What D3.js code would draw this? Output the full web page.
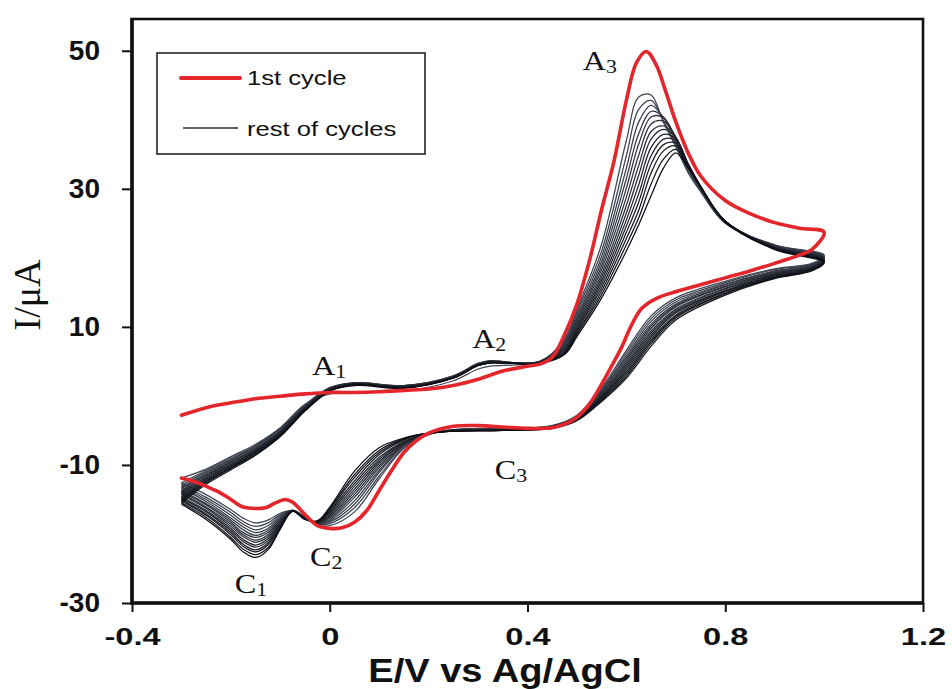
<!DOCTYPE html>
<html>
<head>
<meta charset="utf-8">
<script src="https://cdn.jsdelivr.net/npm/d3@7"></script>
<style>
  html, body { margin: 0; padding: 0; background: #ffffff; }
  svg { display: block; }
</style>
</head>
<body>
<svg id="chart" width="952" height="689"></svg>
<script>
// ---------------- DATA ----------------
const xTicks = [-0.4, 0, 0.4, 0.8, 1.2];
const xTickLabels = ["-0.4", "0", "0.4", "0.8", "1.2"];
const yTicks = [-30, -10, 10, 30, 50];
const yTickLabels = ["-30", "-10", "10", "30", "50"];
const xTitle = "E/V vs Ag/AgCl";
const yTitle = "I/\u03bcA";
const legendLabels = ["1st cycle", "rest of cycles"];

// 1st cycle (red): potentials (V) and currents (µA)
const firstCycleE = [-0.30, -0.25, -0.20, -0.15, -0.10, -0.05, 0.00, 0.05, 0.10, 0.15, 0.20, 0.25, 0.30, 0.35, 0.40, 0.425, 0.45, 0.475, 0.50, 0.525, 0.55, 0.575, 0.60, 0.62, 0.64, 0.66, 0.68, 0.70, 0.725, 0.75, 0.80, 0.85, 0.90, 0.95, 1.00,
  0.975, 0.95, 0.90, 0.85, 0.80, 0.75, 0.70, 0.66, 0.63, 0.61, 0.59, 0.57, 0.55, 0.525, 0.50, 0.475, 0.45, 0.40, 0.35, 0.30, 0.25, 0.20, 0.175, 0.15, 0.125, 0.10, 0.075, 0.05, 0.025, 0.00, -0.025, -0.05, -0.075, -0.09, -0.11, -0.13, -0.175, -0.20, -0.225, -0.25, -0.275, -0.30];
const firstCycleI = [-2.8, -1.7, -1.0, -0.4, -0.05, 0.3, 0.5, 0.5, 0.6, 0.8, 1.0, 1.5, 2.4, 3.6, 4.3, 4.6, 5.6, 8.9, 13.3, 19.5, 27.0, 34.0, 42.8, 48.2, 49.9, 48.0, 44.0, 39.7, 35.2, 31.9, 28.3, 26.4, 25.1, 24.3, 23.7,
  21.2, 20.4, 19.2, 18.1, 17.1, 16.1, 15.1, 14.1, 12.6, 10.2, 7.0, 4.3, 1.7, -1.2, -3.1, -4.1, -4.6, -4.7, -4.5, -4.3, -4.4, -5.4, -6.5, -8.2, -10.8, -13.7, -16.6, -18.3, -19.1, -19.2, -18.8, -17.2, -15.4, -15.0, -15.5, -16.2, -16.1, -15.0, -13.9, -13.1, -12.4, -11.9];

// rest of cycles (black): common potential sweep (forward then reverse)
const restCyclesE = [-0.30, -0.25, -0.20, -0.15, -0.10, -0.05, 0.00, 0.05, 0.15, 0.25, 0.30, 0.325, 0.375, 0.425, 0.475, 0.50, 0.55, 0.60, 0.625, 0.65, 0.675, 0.70, 0.725, 0.75, 0.80, 0.90, 1.00,
  0.975, 0.90, 0.80, 0.70, 0.65, 0.60, 0.55, 0.50, 0.45, 0.35, 0.25, 0.20, 0.15, 0.10, 0.05, 0.00, -0.025, -0.05, -0.075, -0.10, -0.125, -0.15, -0.175, -0.20, -0.25, -0.30];

// currents of each later cycle (µA), cycle 2 .. cycle 15
const restCyclesI = [
  [-11.9, -10.6, -8.8, -7.0, -4.6, -1.2, 0.3, 0.6, 0.7, 2.2, 3.9, 4.3, 4.5, 4.9, 8.3, 12.6, 22.0, 37.0, 43.3, 43.6, 39.6, 36.1, 32.3, 29.6, 25.0, 21.9, 20.4,
   19.2, 18.4, 16.6, 14.2, 11.6, 6.6, 1.2, -2.8, -4.3, -4.7, -4.9, -5.6, -7.6, -12.0, -16.8, -18.8, -18.7, -17.5, -16.6, -17.0, -18.0, -18.4, -17.7, -16.5, -14.3, -12.6],
  [-12.6, -10.8, -9.0, -7.2, -4.7, -1.3, 1.2, 1.9, 1.5, 2.9, 4.7, 5.1, 4.8, 5.0, 8.1, 12.2, 21.0, 34.8, 41.5, 42.8, 39.9, 36.5, 32.6, 29.8, 25.1, 21.8, 20.3,
   19.1, 18.3, 16.4, 13.9, 11.2, 6.2, 1.0, -2.9, -4.3, -4.7, -4.9, -5.6, -7.5, -11.6, -16.2, -18.5, -18.6, -17.5, -16.6, -17.2, -18.4, -18.9, -18.2, -16.9, -14.7, -12.9],
  [-12.9, -11.0, -9.2, -7.3, -4.8, -1.4, 1.2, 1.9, 1.5, 2.9, 4.7, 5.1, 4.8, 5.0, 7.9, 11.8, 20.2, 33.0, 39.7, 42.1, 40.3, 36.9, 32.9, 29.9, 25.1, 21.8, 20.2,
   19.0, 18.1, 16.2, 13.6, 10.8, 5.8, 0.8, -3.0, -4.4, -4.8, -4.9, -5.6, -7.3, -11.1, -15.7, -18.3, -18.6, -17.6, -16.6, -17.4, -18.8, -19.4, -18.6, -17.3, -15.0, -13.2],
  [-13.2, -11.2, -9.3, -7.4, -5.0, -1.5, 1.1, 1.9, 1.5, 2.8, 4.6, 5.0, 4.8, 5.0, 7.7, 11.4, 19.5, 31.5, 38.0, 41.2, 40.4, 37.2, 33.1, 30.0, 25.2, 21.7, 20.1,
   18.9, 18.0, 16.1, 13.3, 10.4, 5.5, 0.7, -3.0, -4.4, -4.8, -5.0, -5.5, -7.2, -10.8, -15.2, -18.1, -18.5, -17.6, -16.6, -17.6, -19.2, -19.8, -19.0, -17.7, -15.3, -13.4],
  [-13.4, -11.4, -9.5, -7.6, -5.1, -1.6, 1.1, 1.8, 1.4, 2.8, 4.6, 5.0, 4.8, 4.9, 7.5, 11.1, 18.9, 30.1, 36.5, 40.4, 40.3, 37.4, 33.3, 30.1, 25.2, 21.7, 20.0,
   18.8, 17.9, 15.9, 13.1, 10.1, 5.2, 0.5, -3.1, -4.4, -4.8, -5.0, -5.5, -7.1, -10.4, -14.7, -17.9, -18.5, -17.6, -16.6, -17.8, -19.5, -20.2, -19.4, -18.0, -15.6, -13.7],
  [-13.7, -11.5, -9.6, -7.7, -5.1, -1.6, 1.0, 1.8, 1.4, 2.8, 4.6, 5.0, 4.8, 4.9, 7.3, 10.8, 18.3, 28.8, 34.9, 39.4, 39.8, 37.5, 33.4, 30.2, 25.3, 21.6, 19.9,
   18.7, 17.8, 15.8, 12.9, 9.8, 4.9, 0.4, -3.1, -4.5, -4.8, -5.0, -5.5, -7.0, -10.1, -14.3, -17.7, -18.4, -17.7, -16.6, -18.0, -19.8, -20.5, -19.8, -18.3, -15.8, -13.9],
  [-13.9, -11.7, -9.7, -7.8, -5.2, -1.7, 1.0, 1.8, 1.4, 2.7, 4.5, 4.9, 4.8, 4.9, 7.1, 10.5, 17.7, 27.6, 33.4, 38.3, 39.1, 37.5, 33.5, 30.3, 25.3, 21.6, 19.9,
   18.7, 17.7, 15.6, 12.6, 9.4, 4.6, 0.2, -3.2, -4.5, -4.9, -5.0, -5.5, -6.9, -9.8, -13.9, -17.5, -18.4, -17.7, -16.6, -18.1, -20.1, -20.9, -20.1, -18.6, -16.1, -14.1],
  [-14.1, -11.8, -9.9, -7.9, -5.3, -1.8, 1.0, 1.8, 1.3, 2.7, 4.5, 4.9, 4.7, 4.9, 6.9, 10.2, 17.2, 26.5, 32.0, 37.2, 38.6, 37.4, 33.6, 30.3, 25.3, 21.5, 19.8,
   18.6, 17.6, 15.5, 12.4, 9.1, 4.4, 0.1, -3.2, -4.5, -4.9, -5.0, -5.5, -6.8, -9.5, -13.5, -17.3, -18.4, -17.7, -16.7, -18.3, -20.4, -21.2, -20.4, -18.9, -16.3, -14.3],
  [-14.3, -12.0, -10.0, -8.0, -5.4, -1.8, 0.9, 1.7, 1.3, 2.7, 4.5, 4.9, 4.7, 4.8, 6.8, 9.9, 16.7, 25.5, 30.6, 36.0, 37.9, 37.2, 33.6, 30.4, 25.3, 21.5, 19.7,
   18.5, 17.5, 15.3, 12.2, 8.8, 4.1, -0.1, -3.3, -4.6, -4.9, -5.0, -5.5, -6.7, -9.2, -13.1, -17.1, -18.3, -17.8, -16.7, -18.4, -20.7, -21.6, -20.8, -19.2, -16.6, -14.6],
  [-14.6, -12.1, -10.1, -8.1, -5.5, -1.9, 0.9, 1.7, 1.3, 2.7, 4.5, 4.9, 4.7, 4.8, 6.6, 9.6, 16.2, 24.6, 29.3, 34.8, 37.2, 37.0, 33.6, 30.4, 25.3, 21.4, 19.6,
   18.4, 17.4, 15.2, 12.0, 8.5, 3.8, -0.2, -3.4, -4.6, -4.9, -5.1, -5.5, -6.6, -8.9, -12.7, -16.9, -18.3, -17.8, -16.7, -18.6, -21.0, -21.9, -21.1, -19.5, -16.8, -14.8],
  [-14.8, -12.3, -10.3, -8.2, -5.6, -2.0, 0.8, 1.7, 1.2, 2.6, 4.4, 4.8, 4.7, 4.8, 6.4, 9.4, 15.7, 23.7, 28.1, 33.6, 36.4, 36.6, 33.5, 30.4, 25.3, 21.4, 19.6,
   18.4, 17.3, 15.1, 11.7, 8.2, 3.5, -0.3, -3.4, -4.6, -5.0, -5.1, -5.4, -6.4, -8.5, -12.3, -16.7, -18.2, -17.8, -16.7, -18.8, -21.3, -22.3, -21.5, -19.8, -17.1, -15.0],
  [-15.0, -12.4, -10.4, -8.3, -5.7, -2.0, 0.8, 1.6, 1.2, 2.6, 4.4, 4.8, 4.7, 4.8, 6.3, 9.1, 15.2, 22.8, 26.9, 32.3, 35.5, 36.2, 33.4, 30.3, 25.3, 21.3, 19.5,
   18.3, 17.2, 14.9, 11.5, 7.9, 3.2, -0.5, -3.5, -4.6, -5.0, -5.1, -5.4, -6.3, -8.2, -11.8, -16.5, -18.2, -17.8, -16.7, -18.9, -21.6, -22.6, -21.8, -20.1, -17.3, -15.2],
  [-15.2, -12.6, -10.5, -8.5, -5.8, -2.1, 0.7, 1.6, 1.2, 2.6, 4.4, 4.8, 4.7, 4.7, 6.1, 8.9, 14.7, 21.9, 25.8, 30.7, 34.3, 35.7, 33.2, 30.3, 25.2, 21.3, 19.4,
   18.2, 17.1, 14.8, 11.3, 7.6, 2.9, -0.6, -3.5, -4.7, -5.0, -5.1, -5.4, -6.2, -7.9, -11.4, -16.3, -18.1, -17.9, -16.7, -19.1, -22.0, -23.0, -22.2, -20.5, -17.6, -15.5],
  [-15.5, -12.8, -10.7, -8.6, -5.9, -2.2, 0.7, 1.5, 1.1, 2.6, 4.4, 4.8, 4.7, 4.7, 6.0, 8.6, 14.2, 21.0, 24.8, 29.0, 33.0, 35.2, 33.0, 30.2, 25.2, 21.2, 19.3,
   18.1, 17.0, 14.6, 11.0, 7.2, 2.6, -0.8, -3.6, -4.7, -5.0, -5.1, -5.4, -6.1, -7.5, -10.9, -16.1, -18.1, -17.9, -16.7, -19.3, -22.3, -23.4, -22.6, -20.8, -17.9, -15.7]
];

// peak annotations: label, subscript, anchor potential (V), anchor current (µA)
const peakNames = ["A", "A", "A", "C", "C", "C"];
const peakSubs = ["1", "2", "3", "1", "2", "3"];
const peakLabelE = [-0.036, 0.288, 0.512, -0.192, -0.040, 0.334];
const peakLabelI = [3.0, 6.9, 47.2, -28.55, -24.64, -12.0];

// ---------------- DRAWING ----------------
const svg = d3.select("#chart");
const sans = "'Liberation Sans', Arial, Helvetica, sans-serif";
const serif = "'Liberation Serif', 'Times New Roman', serif";

const x = d3.scaleLinear().domain([-0.4, 1.2]).range([132, 923]);
const y = d3.scaleLinear().domain([-30, 54.6]).range([603, 19]);

svg.append("rect").attr("width", 952).attr("height", 689).attr("fill", "#ffffff");

const line = d3.line()
  .x(d => x(d[0])).y(d => y(d[1]))
  .curve(d3.curveCatmullRom.alpha(0.5));

// rest of cycles
const blackColor = d3.interpolateRgb("#3f4452", "#0c0e14");
const cyc = svg.append("g").attr("class", "rest-cycles");
restCyclesI.forEach((arr, k) => {
  cyc.append("path")
    .attr("d", line(d3.zip(restCyclesE, arr)))
    .attr("fill", "none")
    .attr("stroke", blackColor(k / (restCyclesI.length - 1)))
    .attr("stroke-width", 1.25)
    .attr("stroke-linejoin", "round");
});

// first cycle
svg.append("path")
  .attr("d", line(d3.zip(firstCycleE, firstCycleI)))
  .attr("fill", "none")
  .attr("stroke", "#e3262b")
  .attr("stroke-width", 3.6)
  .attr("stroke-linejoin", "round")
  .attr("stroke-linecap", "round");

// frame
svg.append("rect")
  .attr("x", x(-0.4)).attr("y", y(54.6))
  .attr("width", x(1.2) - x(-0.4)).attr("height", y(-30) - y(54.6))
  .attr("fill", "none").attr("stroke", "#111").attr("stroke-width", 2.6);
svg.append("line").attr("x1", x(-0.4)).attr("x2", x(-0.4)).attr("y1", y(54.6) - 1).attr("y2", y(-30) + 1.5)
  .attr("stroke", "#111").attr("stroke-width", 3.6);
svg.append("line").attr("x1", x(-0.4) - 1.5).attr("x2", x(1.2) + 1).attr("y1", y(-30)).attr("y2", y(-30))
  .attr("stroke", "#111").attr("stroke-width", 3.6);

// axes
const yAxis = svg.append("g").attr("transform", `translate(${x(-0.4)},0)`)
  .call(d3.axisLeft(y).tickValues(yTicks).tickSize(10).tickPadding(22)
    .tickFormat((d, i) => yTickLabels[i]));
yAxis.select(".domain").remove();
yAxis.selectAll(".tick line").attr("stroke", "#111").attr("stroke-width", 2);
yAxis.selectAll(".tick text").attr("fill", "#111")
  .style("font-family", sans).style("font-weight", "bold").style("font-size", "28px");

const xAxis = svg.append("g").attr("transform", `translate(0,${y(-30)})`)
  .call(d3.axisBottom(x).tickValues(xTicks).tickSize(9).tickPadding(16)
    .tickFormat((d, i) => xTickLabels[i]));
xAxis.select(".domain").remove();
xAxis.selectAll(".tick line").attr("stroke", "#111").attr("stroke-width", 2);
xAxis.selectAll(".tick text").attr("fill", "#111")
  .attr("transform", "scale(1.36,1)")
  .style("font-family", sans).style("font-weight", "bold").style("font-size", "24px");

// axis titles
svg.append("text")
  .attr("transform", "translate(505,681.5) scale(1.12,1)")
  .attr("text-anchor", "middle")
  .style("font-family", sans).style("font-weight", "bold").style("font-size", "34px")
  .attr("fill", "#111")
  .text(xTitle);

svg.append("text")
  .attr("transform", "translate(40,295) rotate(-90)")
  .attr("text-anchor", "middle")
  .style("font-family", serif).style("font-size", "38px")
  .attr("fill", "#111")
  .text(yTitle);

// legend
const leg = svg.append("g");
leg.append("rect").attr("x", 157).attr("y", 53).attr("width", 268).attr("height", 101)
  .attr("fill", "#fff").attr("stroke", "#222").attr("stroke-width", 1.6);
leg.append("line").attr("x1", 181).attr("x2", 240).attr("y1", 78).attr("y2", 78)
  .attr("stroke", "#e3262b").attr("stroke-width", 4).attr("stroke-linecap", "round");
leg.append("line").attr("x1", 183).attr("x2", 238).attr("y1", 128).attr("y2", 128)
  .attr("stroke", "#2a2e38").attr("stroke-width", 1.4);
[[85, legendLabels[0]], [136, legendLabels[1]]].forEach(([by, t]) => {
  leg.append("text")
    .attr("transform", `translate(247,${by}) scale(1.22,1)`)
    .style("font-family", sans).style("font-size", "21px")
    .attr("fill", "#111")
    .text(t);
});

// peak labels
const ann = svg.append("g");
peakNames.forEach((nm, i) => {
  const t = ann.append("text")
    .attr("transform", `translate(${x(peakLabelE[i])},${y(peakLabelI[i])}) scale(1.15,1)`)
    .style("font-family", serif).style("font-size", "28px")
    .attr("fill", "#111");
  t.append("tspan").text(nm);
  t.append("tspan").attr("dy", 3).style("font-size", "19px").text(peakSubs[i]);
});
</script>
</body>
</html>
